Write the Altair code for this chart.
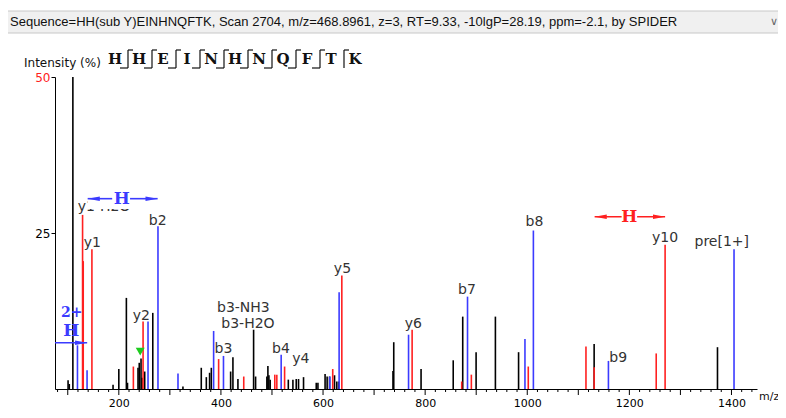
import altair as alt
import pandas as pd

# ---------------- data ----------------
black_mz = [100.6, 103.0, 110.0, 188.7, 200.0, 214.8, 217.0, 237.6, 240.0, 243.5,
            245.5, 250.7, 266.5, 325.6, 361.5, 371.4, 377.8, 381.2, 419.0, 423.5,
            433.3, 464.0, 467.9, 490.0, 492.0, 494.0, 496.5, 532.0, 541.0, 547.5,
            552.0, 561.8, 586.7, 590.0, 604.0, 608.0, 612.7, 622.5, 627.0, 631.0,
            737.0, 738.5, 792.0, 855.0, 873.6, 899.8, 937.6, 983.0, 1131.0, 1372.6]
black_int = [1.4, 0.8, 100.0, 0.7, 3.2, 14.6, 1.0, 3.4, 4.2, 4.9,
             1.8, 2.8, 12.2, 0.4, 3.4, 1.9, 2.6, 3.4, 2.8, 5.1,
             1.6, 9.5, 2.0, 2.0, 3.7, 2.2, 1.5, 1.5, 1.5, 1.6,
             1.6, 1.9, 1.0, 1.0, 2.4, 2.0, 2.0, 2.2, 1.2, 1.2,
             2.9, 7.5, 3.2, 4.6, 11.6, 5.9, 11.6, 5.9, 7.2, 6.7]

blue_mz = [119.0, 137.8, 257.2, 276.7, 315.9, 385.7, 405.0, 518.0, 613.3, 631.5,
           767.5, 883.0, 995.5, 1012.0, 1159.0, 1405.0]
blue_int = [7.0, 3.0, 10.8, 26.1, 2.5, 9.3, 5.3, 5.5, 2.0, 15.5,
            8.7, 14.8, 8.0, 25.4, 4.5, 22.4]

red_mz = [129.0, 130.3, 147.3, 228.5, 247.5, 395.5, 444.7, 505.5, 509.5, 524.7,
          619.0, 636.8, 774.5, 871.6, 890.5, 1002.0, 1115.0, 1131.0, 1252.6, 1270.0]
red_int = [27.9, 20.5, 22.4, 3.6, 10.8, 4.8, 2.0, 2.3, 2.3, 3.6,
           3.2, 18.2, 9.5, 1.2, 2.3, 3.6, 6.8, 3.5, 5.7, 23.1]

label_text = ["y1-H2O", "y1", "b2", "y2", "b3-NH3", "b3-H2O", "b3", "b4", "y4",
              "y5", "y6", "b7", "b8", "b9", "y10", "pre[1+]"]
label_mz = [171.0, 148.0, 276.1, 244.0, 444.0, 453.0, 405.0, 517.5, 556.6,
            638.0, 777.0, 882.0, 1014.0, 1178.0, 1270.0, 1381.0]
label_int = [28.6, 22.8, 26.3, 11.0, 12.4, 9.8, 5.8, 5.8, 4.1,
             18.6, 9.8, 15.3, 26.2, 4.3, 23.6, 22.9]

x_label_values = [200, 400, 600, 800, 1000, 1200, 1400]
x_major_ticks = list(range(100, 1401, 100))
x_minor_ticks = [v for v in range(80, 1441, 20) if v % 100 != 0]

residues = list("HHEINHNQFTK")
header_text = ("Sequence=HH(sub Y)EINHNQFTK, Scan 2704, m/z=468.8961, z=3, RT=9.33, "
               "-10lgP=28.19, ppm=-2.1, by SPIDER")

# annotation arrows (m/z start, m/z end, intensity level)
blue_top_seg_start = [139.0, 222.0]
blue_top_seg_end = [187.0, 276.0]
blue_top_level = 30.5
blue_top_H_mz = 205.7
cover_mz = [139.0, 276.0]
cover_int = [28.85, 33.0]

blue_low_start, blue_low_end, blue_low_level = 75.0, 138.0, 7.4
red_start, red_end, red_level, red_H_mz = 1132.0, 1270.0, 27.6, 1200.0
two_plus_mz, two_plus_int = 107.6, 12.1
two_plus_H_mz, two_plus_H_int = 107.0, 9.3
green_mz, green_int = 241.9, 6.0

BLUE = "#3b3bff"
RED = "#ff2020"
BLACK = "#000000"

# ---------------- tables ----------------
peaks = pd.concat([
    pd.DataFrame({"mz": black_mz, "intensity": black_int, "kind": "k"}),
    pd.DataFrame({"mz": blue_mz, "intensity": blue_int, "kind": "b"}),
    pd.DataFrame({"mz": red_mz, "intensity": red_int, "kind": "r"}),
], ignore_index=True)
peaks["base"] = 0.0

labels = pd.DataFrame({"text": label_text, "mz": label_mz, "intensity": label_int})
one = pd.DataFrame({"d": [0]})

xs = alt.Scale(domain=[75, 1450], nice=False, zero=False)
ys = alt.Scale(domain=[0, 50], nice=False)

x_axis = alt.Axis(
    values=x_label_values, format="d", ticks=False,
    domainColor=BLACK, labelColor=BLACK,
    labelFont="DejaVu Sans", labelFontSize=11, labelPadding=8,
    grid=False, title=None, labelFlush=False,
)
y_axis = alt.Axis(
    values=[25, 50], tickSize=4, grid=False, title=None,
    labelColor={"condition": {"test": "datum.value === 50", "value": "#ff2020"}, "value": BLACK},
    labelFont="DejaVu Sans", labelFontSize=12, labelPadding=1,
    tickColor=BLACK, domainColor=BLACK,
)

color_scale = alt.Scale(domain=["k", "b", "r"], range=[BLACK, BLUE, RED])

peak_layer = alt.Chart(peaks).mark_rule(clip=True, strokeWidth=1.6).encode(
    x=alt.X("mz:Q", scale=xs, axis=x_axis),
    y=alt.Y("intensity:Q", scale=ys, axis=y_axis),
    y2=alt.Y2("base:Q"),
    color=alt.Color("kind:N", scale=color_scale, legend=None),
)

major_tick_layer = alt.Chart(pd.DataFrame({"mz": x_major_ticks})).mark_rule(
    color=BLACK, strokeWidth=1).encode(x="mz:Q", y=alt.value(312), y2=alt.value(318))
minor_tick_layer = alt.Chart(pd.DataFrame({"mz": x_minor_ticks})).mark_rule(
    color=BLACK, strokeWidth=1).encode(x="mz:Q", y=alt.value(312), y2=alt.value(315))

label_layer = alt.Chart(labels).mark_text(
    align="center", baseline="alphabetic", font="DejaVu Sans", fontSize=14, color="#333333"
).encode(x="mz:Q", y="intensity:Q", text="text:N")

cover_layer = alt.Chart(pd.DataFrame({"x": [cover_mz[0]], "x2": [cover_mz[1]],
                                      "y": [cover_int[0]], "y2": [cover_int[1]]})).mark_rect(
    color="white").encode(x="x:Q", x2="x2:Q", y="y:Q", y2="y2:Q")

seg_df = pd.DataFrame({
    "x": blue_top_seg_start + [blue_low_start, red_start],
    "x2": blue_top_seg_end + [blue_low_end, red_end],
    "y": [blue_top_level, blue_top_level, blue_low_level, red_level],
    "c": ["b", "b", "b", "r"],
})
seg_layer = alt.Chart(seg_df).mark_rule(strokeWidth=1.6).encode(
    x="x:Q", x2="x2:Q", y="y:Q",
    color=alt.Color("c:N", scale=color_scale, legend=None),
)

RIGHT = "M-1,-0.36L1,0L-1,0.36Z"
LEFT = "M1,-0.36L-1,0L1,0.36Z"

def head(mz, lvl, color, right):
    return alt.Chart(pd.DataFrame({"x": [mz], "y": [lvl]})).mark_point(
        shape=RIGHT if right else LEFT, filled=True, size=150, opacity=1,
        color=color, xOffset=-6 if right else 6, strokeWidth=0,
    ).encode(x="x:Q", y="y:Q")

heads = [
    head(blue_top_seg_start[0], blue_top_level, BLUE, False),
    head(blue_top_seg_end[1], blue_top_level, BLUE, True),
    head(blue_low_end, blue_low_level, BLUE, True),
    head(red_start, red_level, RED, False),
    head(red_end, red_level, RED, True),
]

red_gap = alt.Chart(pd.DataFrame({"x": [red_H_mz], "y": [red_level]})).mark_point(
    shape="square", filled=True, size=240, color="white", opacity=1, strokeWidth=0
).encode(x="x:Q", y="y:Q")

def serif_text(mz, lvl, txt, color, size):
    return alt.Chart(pd.DataFrame({"x": [mz], "y": [lvl]})).mark_text(
        text=txt, font="DejaVu Serif", fontWeight="bold", fontSize=size, color=color,
        align="center", baseline="middle",
    ).encode(x="x:Q", y="y:Q")

ann_text = [
    serif_text(blue_top_H_mz, blue_top_level, "H", BLUE, 17),
    serif_text(red_H_mz, red_level, "H", RED, 17),
    serif_text(two_plus_mz, two_plus_int, "2+", BLUE, 14),
    serif_text(two_plus_H_mz, two_plus_H_int, "H", BLUE, 17),
]

green = alt.Chart(pd.DataFrame({"x": [green_mz], "y": [green_int]})).mark_point(
    shape="triangle-down", filled=True, size=80, color="#1ecc1e", opacity=1, strokeWidth=0
).encode(x="x:Q", y="y:Q")

# ---------------- header decorations (pixel positions relative to plot origin) ----------------
deco = []
deco.append(alt.Chart(one).mark_rect(fill="#f0f0f0", stroke="#c8c8c8", strokeWidth=1).encode(
    x=alt.value(-56), x2=alt.value(740), y=alt.value(-66), y2=alt.value(-44)))
deco.append(alt.Chart(one).mark_text(text=header_text, font="Liberation Sans", fontSize=13,
                                     color="#111111", align="left", baseline="middle").encode(
    x=alt.value(-45), y=alt.value(-55)))
deco.append(alt.Chart(one).mark_text(text="\u2228", font="DejaVu Sans", fontSize=11,
                                     color="#666666", align="center", baseline="middle").encode(
    x=alt.value(719), y=alt.value(-55)))
deco.append(alt.Chart(one).mark_text(text="Intensity (%)", font="DejaVu Sans", fontSize=12,
                                     color="#111111", align="left", baseline="middle").encode(
    x=alt.value(-31), y=alt.value(-14)))
deco.append(alt.Chart(one).mark_text(text="m/z", font="DejaVu Sans", fontSize=11,
                                     color="#111111", align="left", baseline="middle").encode(
    x=alt.value(704), y=alt.value(320)))

for i, r in enumerate(residues):
    deco.append(alt.Chart(one).mark_text(text=r, font="DejaVu Serif", fontWeight="bold", fontSize=15,
                                         color="#111111", align="center", baseline="middle").encode(
        x=alt.value(60 + 24 * i), y=alt.value(-18)))
for i in range(len(residues) - 1):
    vx = 73 + 24 * i
    deco.append(alt.Chart(one).mark_rule(color="#111111", strokeWidth=1.2).encode(
        x=alt.value(vx), y=alt.value(-27), y2=alt.value(-9)))
    deco.append(alt.Chart(one).mark_rule(color="#111111", strokeWidth=1.2).encode(
        x=alt.value(vx), x2=alt.value(vx + 5), y=alt.value(-27)))
    if i < len(residues) - 2:
        deco.append(alt.Chart(one).mark_rule(color="#111111", strokeWidth=1.2).encode(
            x=alt.value(vx - 8), x2=alt.value(vx), y=alt.value(-9)))

chart = alt.layer(
    peak_layer, major_tick_layer, minor_tick_layer, label_layer, cover_layer, seg_layer,
    *heads, red_gap, *ann_text, green, *deco
).properties(
    width=702, height=312,
    autosize=alt.AutoSizeParams(type="none"),
    padding={"left": 47, "top": 69, "right": 21, "bottom": 21},
).configure_view(stroke=None).configure_axis(grid=False)

chart.save("out.html", embed_options={"renderer": "svg", "actions": False})
